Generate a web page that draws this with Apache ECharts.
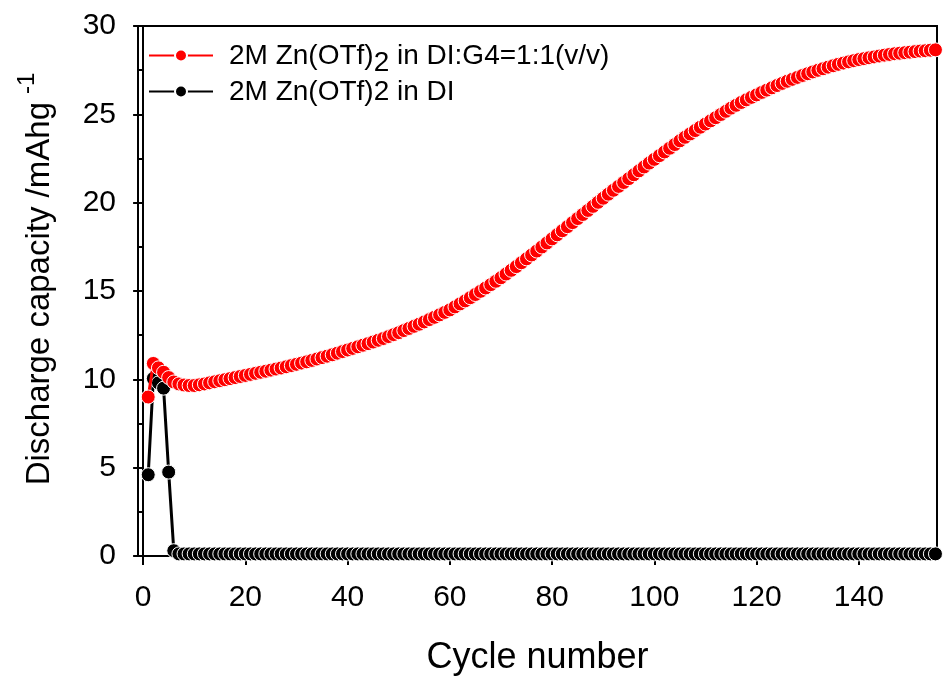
<!DOCTYPE html>
<html>
<head>
<meta charset="utf-8">
<script src="https://cdn.jsdelivr.net/npm/echarts@6/dist/echarts.min.js"></script>
<style>
  html, body { margin: 0; padding: 0; background: #fff; }
  #main { width: 943px; height: 681px; }
</style>
</head>
<body>
<div id="main"></div>
<script>
// 数据：循环次数 vs 放电容量
var xTicks = [0, 20, 40, 60, 80, 100, 120, 140];
var nameRed = '2M Zn(OTf)2 in DI:G4=1:1(v/v)';
var nameBlack = '2M Zn(OTf)2 in DI';

// 红色：DI:G4=1:1
var capRed = [
  9.00, 10.90, 10.65, 10.40, 10.10, 9.85, 9.74, 9.68, 9.65, 9.65,
  9.69, 9.74, 9.80, 9.86, 9.92, 9.98, 10.04, 10.10, 10.16, 10.22,
  10.28, 10.34, 10.40, 10.46, 10.52, 10.58, 10.64, 10.71, 10.78, 10.85,
  10.92, 10.99, 11.07, 11.15, 11.23, 11.31, 11.39, 11.48, 11.57, 11.66,
  11.75, 11.84, 11.93, 12.02, 12.11, 12.21, 12.31, 12.42, 12.53, 12.64,
  12.76, 12.88, 13.00, 13.12, 13.25, 13.38, 13.51, 13.65, 13.79, 13.93,
  14.10, 14.27, 14.44, 14.62, 14.80, 14.98, 15.17, 15.36, 15.55, 15.75,
  15.96, 16.17, 16.38, 16.60, 16.82, 17.04, 17.26, 17.49, 17.72, 17.95,
  18.18, 18.41, 18.64, 18.87, 19.10, 19.33, 19.56, 19.79, 20.02, 20.25,
  20.48, 20.70, 20.92, 21.14, 21.36, 21.58, 21.80, 22.02, 22.24, 22.45,
  22.66, 22.87, 23.08, 23.29, 23.50, 23.70, 23.89, 24.08, 24.27, 24.45,
  24.63, 24.81, 24.99, 25.17, 25.35, 25.51, 25.67, 25.82, 25.96, 26.10,
  26.24, 26.37, 26.50, 26.63, 26.75, 26.87, 26.98, 27.09, 27.20, 27.30,
  27.40, 27.49, 27.58, 27.67, 27.75, 27.83, 27.90, 27.97, 28.04, 28.10,
  28.15, 28.20, 28.25, 28.30, 28.35, 28.39, 28.43, 28.46, 28.49, 28.52,
  28.55, 28.58, 28.60, 28.63, 28.65
];

// 黑色：纯 DI
var capBlack = [
  4.60, 10.05, 9.80, 9.50, 4.75, 0.30, 0.12, 0.12, 0.12, 0.12,
  0.12, 0.12, 0.12, 0.12, 0.12, 0.12, 0.12, 0.12, 0.12, 0.12,
  0.12, 0.12, 0.12, 0.12, 0.12, 0.12, 0.12, 0.12, 0.12, 0.12,
  0.12, 0.12, 0.12, 0.12, 0.12, 0.12, 0.12, 0.12, 0.12, 0.12,
  0.12, 0.12, 0.12, 0.12, 0.12, 0.12, 0.12, 0.12, 0.12, 0.12,
  0.12, 0.12, 0.12, 0.12, 0.12, 0.12, 0.12, 0.12, 0.12, 0.12,
  0.12, 0.12, 0.12, 0.12, 0.12, 0.12, 0.12, 0.12, 0.12, 0.12,
  0.12, 0.12, 0.12, 0.12, 0.12, 0.12, 0.12, 0.12, 0.12, 0.12,
  0.12, 0.12, 0.12, 0.12, 0.12, 0.12, 0.12, 0.12, 0.12, 0.12,
  0.12, 0.12, 0.12, 0.12, 0.12, 0.12, 0.12, 0.12, 0.12, 0.12,
  0.12, 0.12, 0.12, 0.12, 0.12, 0.12, 0.12, 0.12, 0.12, 0.12,
  0.12, 0.12, 0.12, 0.12, 0.12, 0.12, 0.12, 0.12, 0.12, 0.12,
  0.12, 0.12, 0.12, 0.12, 0.12, 0.12, 0.12, 0.12, 0.12, 0.12,
  0.12, 0.12, 0.12, 0.12, 0.12, 0.12, 0.12, 0.12, 0.12, 0.12,
  0.12, 0.12, 0.12, 0.12, 0.12, 0.12, 0.12, 0.12, 0.12, 0.12,
  0.12, 0.12, 0.12, 0.12, 0.12
];

function toPairs(arr) {
  return arr.map(function (v, i) { return [i + 1, v]; });
}

var FONT = '"Liberation Sans", Arial, sans-serif';
var myChart = echarts.init(document.getElementById('main'));

var option = {
  backgroundColor: '#fff',
  animation: false,
  textStyle: { fontFamily: FONT, color: '#000' },
  grid: {
    left: 138, right: 6, top: 26, bottom: 124,
    show: true, borderColor: '#000', borderWidth: 2
  },
  legend: {
    left: 148,
    top: 42,
    padding: 0,
    orient: 'vertical',
    itemWidth: 64,
    itemHeight: 15,
    itemGap: 1,
    data: [nameRed, nameBlack],
    formatter: function (name) {
      if (name === nameRed) {
        return '{a|2M Zn(OTf)}{s|2}{a| in DI:G4=1:1(v/v)}';
      }
      return '{a|' + name + '}';
    },
    textStyle: {
      fontFamily: FONT,
      padding: [0, 0, 0, 11],
      rich: {
        a: { fontSize: 28, fontFamily: FONT, color: '#000', lineHeight: 27, verticalAlign: 'top', padding: [0, 0, 7, 0] },
        s: { fontSize: 28, fontFamily: FONT, color: '#000', lineHeight: 27, verticalAlign: 'top', padding: [7, 0, 0, 0] }
      }
    }
  },
  xAxis: {
    type: 'value',
    min: -1,
    max: 155.3,
    name: 'Cycle number',
    nameLocation: 'middle',
    nameGap: 84,
    nameTextStyle: { fontSize: 36, fontFamily: FONT, color: '#000' },
    axisLine: { onZero: false, lineStyle: { color: '#000', width: 2 } },
    axisTick: { show: true, length: 9, customValues: xTicks, lineStyle: { color: '#000', width: 2 } },
    axisLabel: { customValues: xTicks, fontSize: 30, fontFamily: FONT, color: '#000', margin: 27 },
    splitLine: { show: false }
  },
  yAxis: {
    type: 'value',
    min: 0,
    max: 30,
    interval: 5,
    name: '{m|Discharge capacity /mAhg}{s|-1}',
    nameLocation: 'middle',
    nameGap: 87,
    nameTextStyle: {
      fontFamily: FONT,
      rich: {
        m: { fontSize: 33, fontFamily: FONT, color: '#000', verticalAlign: 'top', lineHeight: 36, padding: [8, 0, 0, 24] },
        s: { fontSize: 24, fontFamily: FONT, color: '#000', verticalAlign: 'top', lineHeight: 24, padding: [0, 0, 0, 8] }
      }
    },
    axisLine: { show: true, lineStyle: { color: '#000', width: 2 } },
    axisTick: { show: true, length: 10, lineStyle: { color: '#000', width: 2 } },
    minorTick: { show: true, splitNumber: 2, length: 6, lineStyle: { color: '#000', width: 2 } },
    axisLabel: { fontSize: 30, fontFamily: FONT, color: '#000', margin: 22 },
    splitLine: { show: false }
  },
  series: [
    {
      name: nameBlack,
      type: 'line',
      data: toPairs(capBlack),
      symbol: 'circle',
      symbolSize: 14,
      showAllSymbol: true,
      color: '#000',
      lineStyle: { color: '#000', width: 3 },
      itemStyle: { color: '#000', borderColor: '#fff', borderWidth: 1 },
      z: 2
    },
    {
      name: nameRed,
      type: 'line',
      data: toPairs(capRed),
      symbol: 'circle',
      symbolSize: 14,
      showAllSymbol: true,
      color: '#ff0000',
      lineStyle: { color: '#ff0000', width: 3 },
      itemStyle: { color: '#ff0000', borderColor: '#fff', borderWidth: 1 },
      z: 3
    }
  ]
};

myChart.setOption(option);
</script>
</body>
</html>
